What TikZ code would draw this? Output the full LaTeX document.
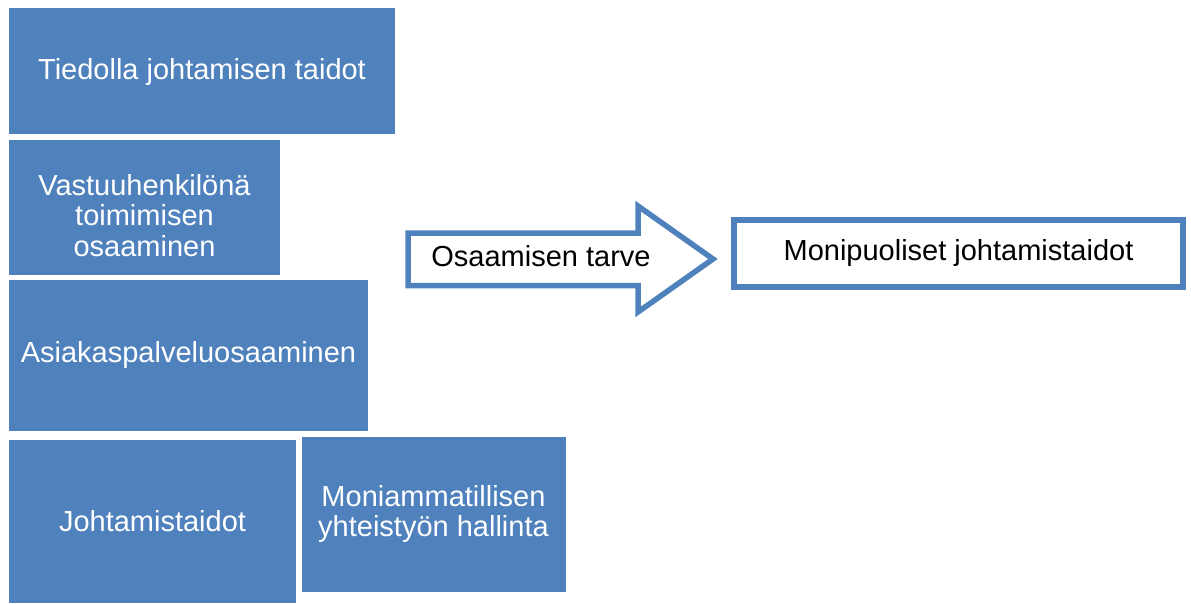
\documentclass[tikz,border=0pt]{standalone}
\usepackage{fontspec}
\setmainfont{Liberation Sans}
\usepackage{xcolor}
\usepackage{tikz}
\usetikzlibrary{positioning}

\definecolor{skillblue}{HTML}{4F81BD}

\begin{document}
\begin{tikzpicture}[x=1pt, y=-1pt,
  skill/.style={fill=skillblue, text=white, inner sep=0pt, align=center,
    font=\fontsize{29}{30.5}\selectfont},
  goal/.style={draw=skillblue, line width=6pt, fill=white, inner sep=0pt,
    font=\fontsize{29}{30.5}\selectfont}]
  \useasboundingbox (0,0) rectangle (1191,603);

  % Skill boxes
  \node[skill, minimum width=386, minimum height=126] (tiedolla) at (202,70.5) {\rule{0pt}{24pt}Tiedolla johtamisen taidot};
  \node[skill, minimum width=271, minimum height=135] (vastuu) at (144.5,207) {\rule{0pt}{38pt}Vastuuhenkilönä\\toimimisen\\osaaminen};
  \node[skill, minimum width=359, minimum height=151] (asiakas) at (188.5,355) {Asiakaspalveluosaaminen};
  \node[skill, minimum width=287, minimum height=163] (johtamis) at (152.5,521.5) {Johtamistaidot};
  \node[skill, minimum width=264, minimum height=155] (moniamm) at (433.5,514) {Moniammatillisen\\yhteistyön hallinta};

  % Arrow
  \draw[skillblue, line width=5.5pt, fill=white]
    (408,233) -- (638,233) -- (638,206) -- (713,259) -- (638,312) -- (638,285.5) -- (408,285.5) -- cycle;
  \node[font=\fontsize{29}{30.5}\selectfont] (tarve) at (541,256) {Osaamisen tarve};

  % Result
  \node[goal, minimum width=449, minimum height=67] (monipuoliset) at (958.5,253.4) {Monipuoliset johtamistaidot};
\end{tikzpicture}
\end{document}
